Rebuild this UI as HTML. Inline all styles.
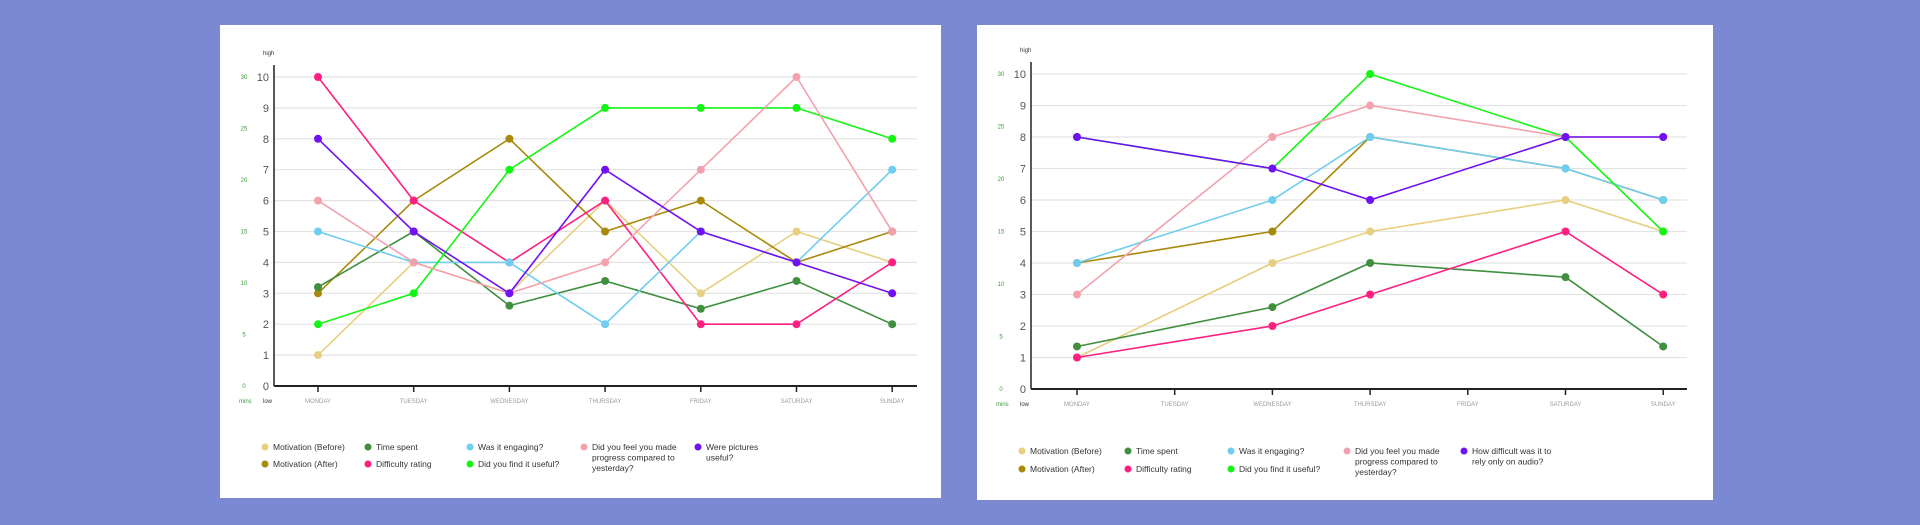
<!DOCTYPE html>
<html><head><meta charset="utf-8"><style>
html,body{margin:0;padding:0;width:1920px;height:525px;background:#7a89d1;overflow:hidden}
svg{display:block;font-family:"Liberation Sans",sans-serif}
</style></head><body>
<svg id="s" width="1920" height="525"></svg>
<script>
const days1 = ["MONDAY","TUESDAY","WEDNESDAY","THURSDAY","FRIDAY","SATURDAY","SUNDAY"];
const yTicks = [0,1,2,3,4,5,6,7,8,9,10];
const minTicks = [0,5,10,15,20,25,30];
const c1Before = [1,4,3,6,3,5,4];
const c1After = [3,6,8,5,6,4,5];
const c1Time = [3.2,5,2.6,3.4,2.5,3.4,2];
const c1Diff = [10,6,4,6,2,2,4];
const c1Engaging = [5,4,4,2,5,4,7];
const c1Useful = [2,3,7,9,9,9,8];
const c1Progress = [6,4,3,4,7,10,5];
const c1Pictures = [8,5,3,7,5,4,3];
const c2Before = [1,null,4,5,null,6,5];
const c2After = [4,null,5,8,null,7,6];
const c2Time = [1.35,null,2.6,4,null,3.55,1.35];
const c2Diff = [1,null,2,3,null,5,3];
const c2Engaging = [4,null,6,8,null,7,6];
const c2Useful = [8,null,7,10,null,8,5];
const c2Progress = [3,null,8,9,null,8,8];
const c2Audio = [8,null,7,6,null,8,8];
const labels1 = ["Motivation (Before)","Motivation (After)","Time spent","Difficulty rating","Was it engaging?","Did you find it useful?","Did you feel you made|progress compared to|yesterday?","Were pictures|useful?"];
const labels2 = ["Motivation (Before)","Motivation (After)","Time spent","Difficulty rating","Was it engaging?","Did you find it useful?","Did you feel you made|progress compared to|yesterday?","How difficult was it to|rely only on  audio?"];
const colors = ["#e6cf7e","#a8890a","#3f8f3f","#ff1f80","#6fcdef","#14f514","#f3a1ad","#7010f5"];
const legCol = [0,0,1,1,2,2,3,4];
const legRow = [0,1,0,1,0,1,0,0];
const NS="http://www.w3.org/2000/svg";
const svg=document.getElementById('s');
function mk(t,a,p){const e=document.createElementNS(NS,t);for(const k in a)e.setAttribute(k,a[k]);(p||svg).appendChild(e);return e;}
function chart(cfg,series,labels,name){
  const g=mk('g',{});
  
  
  const card=mk('rect',{x:cfg.cx,y:cfg.cy,width:cfg.cw,height:cfg.ch,fill:'#fff'},g);
  
  
  const Y=v=>cfg.y0-(v/10)*(cfg.y0-cfg.y10);
  const X=i=>cfg.xMon+i*cfg.dx;
  yTicks.forEach(v=>{
    if(v>0){const l=mk('line',{x1:cfg.ax,x2:cfg.gx2,y1:Y(v),y2:Y(v),stroke:'#e3e3e3','stroke-width':1.2},g);
    
    }
    const t=mk('text',{x:cfg.ax-5,y:Y(v)+4,'font-size':11,fill:'#555','text-anchor':'end'},g);t.textContent=v;
    
    
  });
  minTicks.forEach(v=>{const t=mk('text',{x:cfg.ax-30,y:Y(v/3)+2,'font-size':6,fill:'#3a9a3a','text-anchor':'middle'},g);t.textContent=v;
    
    });
  let t=mk('text',{x:cfg.ax-11,y:cfg.y10-22,'font-size':6,fill:'#333'},g);t.textContent='high';
  
  
  t=mk('text',{x:cfg.ax-11,y:cfg.y0+17,'font-size':6,fill:'#333'},g);t.textContent='low';
  
  
  t=mk('text',{x:cfg.ax-35,y:cfg.y0+17,'font-size':6,fill:'#3a9a3a'},g);t.textContent='mins';
  
  
  let a=mk('line',{x1:cfg.ax,x2:cfg.ax,y1:cfg.y10-12,y2:cfg.y0,stroke:'#222','stroke-width':1.5},g);
  
  
  a=mk('line',{x1:cfg.ax,x2:cfg.gx2,y1:cfg.y0,y2:cfg.y0,stroke:'#222','stroke-width':2},g);
  
  
  days1.forEach((d,i)=>{
    const tk=mk('line',{x1:X(i),x2:X(i),y1:cfg.y0,y2:cfg.y0+6,stroke:'#222','stroke-width':1.5},g);
    
    
    const tt=mk('text',{x:X(i),y:cfg.y0+17,'font-size':6,fill:'#999','text-anchor':'middle'},g);tt.textContent=d;
    
    
  });
  series.forEach((s,si)=>{
    const pts=[];s.forEach((v,i)=>{if(v!==null)pts.push([X(i),Y(v)]);});
    const pl=mk('polyline',{points:pts.map(p=>p.join(',')).join(' '),fill:'none',stroke:colors[si],'stroke-width':1.6},g);
    
    
    pts.forEach(p=>{const c=mk('circle',{cx:p[0],cy:p[1],r:4,fill:colors[si]},g);
      
      });
  });
  labels.forEach((lab,i)=>{
    const x=cfg.lx[legCol[i]],y=cfg.ly[legRow[i]];
    const c=mk('circle',{cx:x,cy:y-3,r:3.5,fill:colors[i]},g);
    
    
    const tx=mk('text',{x:x+8,y:y,'font-size':8.5,fill:'#333'},g);
    
    
    lab.split('|').forEach((ln,k)=>{const ts=mk('tspan',{x:x+8,dy:k?10.5:0},tx);ts.textContent=ln;});
  });
}
chart({cx:220,cy:25,cw:721,ch:473,ax:274,gx2:917,y0:386,y10:77,xMon:318,dx:95.7,lx:[265,368,470,584,698],ly:[450,467]},
  [c1Before,c1After,c1Time,c1Diff,c1Engaging,c1Useful,c1Progress,c1Pictures],labels1,'chart-week-1');
chart({cx:977,cy:25,cw:736,ch:475,ax:1031,gx2:1687,y0:389,y10:74,xMon:1077,dx:97.7,lx:[1022,1128,1231,1347,1464],ly:[454,472]},
  [c2Before,c2After,c2Time,c2Diff,c2Engaging,c2Useful,c2Progress,c2Audio],labels2,'chart-week-2');
</script>
</body></html>
